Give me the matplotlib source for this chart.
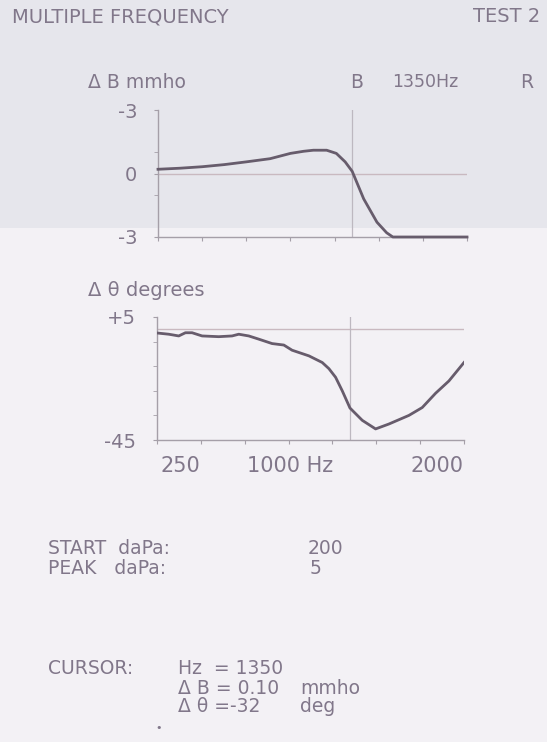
import numpy as np
import matplotlib.pyplot as plt
from matplotlib.patches import Rectangle

# Multiple frequency tympanometry printout, test 2
# Delta B (mmho) and delta phase (degrees) vs probe frequency, cursor at 1350 Hz

freq_b = [250, 375, 500, 625, 750, 885, 1000, 1075, 1130, 1205, 1260, 1310, 1350,
          1380, 1415, 1490, 1545, 1580, 1700, 1850, 2000]
delta_b = [0.2, 0.25, 0.32, 0.42, 0.55, 0.7, 0.95, 1.05, 1.1, 1.1, 0.95, 0.55, 0.1,
           -0.5, -1.2, -2.3, -2.8, -3.0, -3.0, -3.0, -3.0]

freq_ph = [250, 317, 374, 412, 450, 507, 602, 678, 716, 773, 830, 906, 973, 1020,
           1116, 1192, 1230, 1268, 1306, 1350, 1420, 1496, 1572, 1686, 1762, 1838, 1914, 2000]
delta_ph = [-1.5, -2, -2.7, -1.4, -1.4, -2.7, -3, -2.7, -2, -2.7, -4, -5.8, -6.4, -8.5,
            -10.8, -13.5, -16, -19.5, -25, -32, -37, -40.5, -38.5, -35, -31.8, -26, -21, -13.5]

x_ticks = [250, 500, 750, 1000, 1250, 1500, 1750, 2000]
cursor_hz = 1350

ink = '#81778a'
line_c = '#a59fa8'
curve_c = '#675c6c'
paper = '#f3f1f5'

fig = plt.figure(figsize=(5.47, 7.42), dpi=100, facecolor=paper)
# greyer upper half of the scanned sheet
fig.patches.append(Rectangle((0, 1 - 228 / 742), 1, 228 / 742, transform=fig.transFigure,
                             facecolor='#e6e6ec', edgecolor='none', zorder=-5))


def setup(ax, ylim):
    ax.set_facecolor('none')
    ax.set_xlim(250, 2000)
    ax.set_ylim(*ylim)
    for s in ['top', 'right']:
        ax.spines[s].set_visible(False)
    for s in ['left', 'bottom']:
        ax.spines[s].set_color(line_c)
        ax.spines[s].set_linewidth(1.0)
    ax.set_xticks(x_ticks)
    ax.set_xticklabels([])
    ax.tick_params(axis='both', which='both', direction='out', length=3,
                   color=line_c, labelcolor=ink, labelsize=14, pad=12)
    ax.axhline(0, color='#c9b9c0', lw=1.0, zorder=1)
    ax.axvline(cursor_hz, color='#bdb8c0', lw=0.9, zorder=1)


# delta B panel
ax1 = fig.add_axes([158 / 547, 1 - 237 / 742, 309 / 547, 127 / 742])
setup(ax1, (-3, 3))
ax1.set_yticks([-3, 0, 3])
ax1.set_yticklabels(['-3', '0', '-3'])
ax1.set_yticks([-1, 1], minor=True)
ax1.plot(freq_b, delta_b, color=curve_c, lw=2.0, zorder=3, clip_on=False)

# delta phase panel
ax2 = fig.add_axes([157 / 547, 1 - 440 / 742, 307 / 547, 123 / 742])
setup(ax2, (-45, 5))
ax2.set_yticks([-45, 5])
ax2.set_yticklabels(['-45', '+5'])
ax2.set_yticks([-35, -25, -15, -5], minor=True)
ax2.plot(freq_ph, delta_ph, color=curve_c, lw=2.0, zorder=3)

for xf, s, ha in [(0.075, '250', 'center'), (0.293, '1000 Hz', 'left'), (1.0, '2000', 'right')]:
    ax2.text(xf, -0.21, s, transform=ax2.transAxes, ha=ha, va='center',
             color=ink, fontsize=15)


def txt(x, y, s, size=13.5, ha='left'):
    fig.text(x / 547, 1 - y / 742, s, ha=ha, va='center', color=ink, fontsize=size)


txt(12, 17, 'MULTIPLE FREQUENCY', size=14)
txt(540, 17, 'TEST 2', size=14, ha='right')
txt(88, 82, 'Δ B mmho')
txt(350, 82, 'B')
txt(392, 82, '1350Hz', size=12.5)
txt(520, 82, 'R')
txt(88, 290, 'Δ θ degrees', size=14)

txt(48, 548, 'START  daPa:')
txt(308, 548, '200')
txt(48, 569, 'PEAK   daPa:')
txt(310, 569, '5')

txt(48, 668, 'CURSOR:')
txt(178, 668, 'Hz  = 1350')
txt(178, 688, 'Δ B = 0.10')
txt(300, 688, 'mmho')
txt(178, 707, 'Δ θ =-32')
txt(300, 707, 'deg')
txt(155, 728, '•', size=8)

fig.savefig('out.png', dpi=100, facecolor=paper)
